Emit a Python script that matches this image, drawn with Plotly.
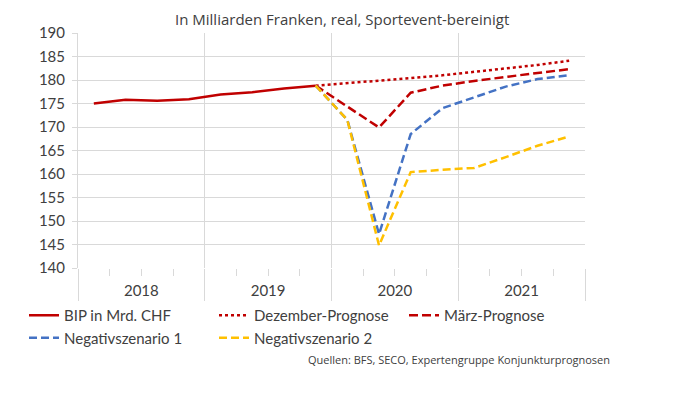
import plotly.graph_objects as go

years = ["2018", "2019", "2020", "2021"]
quarters = ["2018Q1", "2018Q2", "2018Q3", "2018Q4",
            "2019Q1", "2019Q2", "2019Q3", "2019Q4",
            "2020Q1", "2020Q2", "2020Q3", "2020Q4",
            "2021Q1", "2021Q2", "2021Q3", "2021Q4"]

bip = [175.0, 175.8, 175.6, 175.9, 176.9, 177.4, 178.2, 178.8,
       None, None, None, None, None, None, None, None]
dezember = [None, None, None, None, None, None, None, 178.8,
            179.3, 179.9, 180.4, 181.0, 181.7, 182.4, 183.2, 184.1]
maerz = [None, None, None, None, None, None, None, 178.8,
         174.4, 169.9, 177.3, 178.8, 179.8, 180.7, 181.5, 182.3]
neg1 = [None, None, None, None, None, None, None, 178.8,
        171.5, 147.2, 168.5, 174.0, 176.3, 178.6, 180.2, 181.0]
neg2 = [None, None, None, None, None, None, None, 178.8,
        171.5, 144.8, 160.4, 160.9, 161.3, 163.6, 166.0, 168.0]

series = [
    ("BIP in Mrd. CHF", bip, "#c00000", "solid"),
    ("Dezember-Prognose", dezember, "#c00000", "dot"),
    ("März-Prognose", maerz, "#c00000", "9px,4px"),
    ("Negativszenario 1", neg1, "#4472c4", "8px,4px"),
    ("Negativszenario 2", neg2, "#ffc000", "8px,4px"),
]

xpos = [i + 0.5 for i in range(len(quarters))]
year_centers = [4 * i + 2 for i in range(len(years))]

fig = go.Figure()
for name, vals, color, dash in series:
    fig.add_trace(go.Scatter(
        x=xpos, y=vals, name=name, mode="lines",
        line=dict(color=color, width=2.5, dash=dash),
        hovertext=quarters, connectgaps=False))

# invisible trace to drive the year-label axis
fig.add_trace(go.Scatter(x=year_centers, y=[None] * len(years), xaxis="x2",
                         showlegend=False, hoverinfo="skip"))

txt = "#404040"
grid = "#d9d9d9"
fig.update_layout(
    width=695, height=395,
    margin=dict(l=70, r=118, t=25, b=135),
    paper_bgcolor="white", plot_bgcolor="white",
    font=dict(family="Lato, Liberation Sans, sans-serif", size=15, color=txt),
    showlegend=True,
    legend=dict(orientation="h", x=-0.1065, y=-0.132, xanchor="left", yanchor="top",
                entrywidth=145, entrywidthmode="pixels",
                font=dict(size=15, color=txt), tracegroupgap=0,
                itemwidth=30, bgcolor="rgba(0,0,0,0)"),
    xaxis=dict(range=[0, 16], tickmode="linear", tick0=0, dtick=4,
               showgrid=True, gridcolor=grid, gridwidth=1,
               showticklabels=False, ticks="outside", ticklen=32,
               tickcolor=grid, zeroline=False, showline=False,
               minor=dict(tickmode="linear", tick0=0, dtick=1, ticks="outside",
                          ticklen=7, tickcolor=grid, showgrid=False)),
    xaxis2=dict(range=[0, 16], overlaying="x", side="bottom", anchor="y",
                tickmode="array", tickvals=year_centers, ticktext=years,
                showgrid=False, ticks="", showline=False, zeroline=False,
                ticklabelstandoff=12,
                tickfont=dict(size=15, color=txt)),
    yaxis=dict(range=[140, 190], tickmode="linear", tick0=140, dtick=5,
               showgrid=True, gridcolor=grid, gridwidth=1,
               ticks="outside", ticklen=5, tickcolor=grid,
               showline=True, linecolor=grid, linewidth=1, zeroline=False,
               ticklabelstandoff=4,
               tickfont=dict(size=15, color=txt)),
    annotations=[
        dict(text="In Milliarden Franken, real, Sportevent-bereinigt",
             xref="paper", yref="paper", x=0.52, y=1.0, yshift=14,
             xanchor="center", yanchor="middle", showarrow=False,
             font=dict(family="Open Sans, sans-serif", size=15, color=txt)),
        dict(text="Quellen: BFS, SECO, Expertengruppe Konjunkturprognosen",
             xref="paper", yref="paper", x=1.053, y=-0.391,
             xanchor="right", yanchor="middle", showarrow=False,
             font=dict(family="Open Sans, sans-serif", size=11, color=txt)),
    ],
)

fig.write_html("out.html")
